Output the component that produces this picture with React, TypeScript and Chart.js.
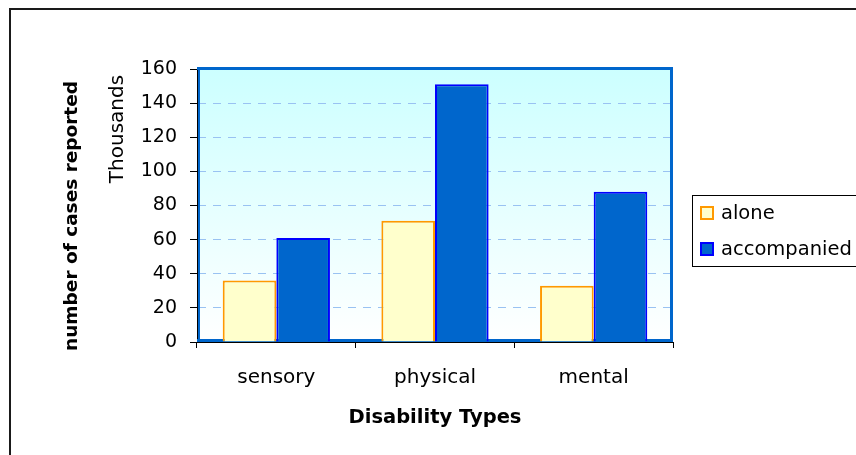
import React, { useEffect, useRef } from "react";
import { Chart, registerables } from "chart.js";

Chart.register(...registerables);

const categories = ["sensory", "physical", "mental"];
const aloneValues = [36, 71, 33];
const accompaniedValues = [61, 151, 88];
const seriesNames = ["alone", "accompanied"];
const yTitle = "number of cases reported";
const yUnit = "Thousands";
const xTitle = "Disability Types";

const FONT = "'DejaVu Sans', sans-serif";

const decorPlugin = {
  id: "decor",
  beforeDraw(chart: any) {
    const { ctx, chartArea } = chart;
    const { left, top, right, bottom } = chartArea;
    ctx.save();
    ctx.fillStyle = "#ffffff";
    ctx.fillRect(0, 0, chart.width, chart.height);
    ctx.fillStyle = "#1a1a1a";
    ctx.fillRect(9, 8, chart.width - 9, 2);
    ctx.fillRect(9, 8, 2, chart.height - 8);
    const g = ctx.createLinearGradient(0, top, 0, bottom);
    g.addColorStop(0, "#ccffff");
    g.addColorStop(1, "#ffffff");
    ctx.fillStyle = g;
    ctx.fillRect(left, top, right - left, bottom - top);
    ctx.restore();
  },
  beforeDatasetsDraw(chart: any) {
    const { ctx, chartArea } = chart;
    const { left, top, right, bottom } = chartArea;
    ctx.save();
    ctx.fillStyle = "#0066cc";
    ctx.fillRect(left, top - 2, right - left, 3);
    ctx.fillRect(right - 3, top - 2, 3, bottom - top + 2);
    ctx.fillRect(left + 1, top - 2, 2, bottom - top + 2);
    ctx.fillRect(left, bottom - 3, right - left, 3);
    ctx.restore();
  },
  afterDraw(chart: any) {
    const { ctx } = chart;
    ctx.save();
    ctx.fillStyle = "#000000";
    ctx.textAlign = "center";
    ctx.textBaseline = "middle";
    ctx.save();
    ctx.translate(72, 216);
    ctx.rotate(-Math.PI / 2);
    ctx.font = `bold 18.5px ${FONT}`;
    ctx.fillText(yTitle, 0, 0);
    ctx.restore();
    ctx.save();
    ctx.translate(118, 129);
    ctx.rotate(-Math.PI / 2);
    ctx.font = `20px ${FONT}`;
    ctx.fillText(yUnit, 0, 0);
    ctx.restore();
    ctx.font = `bold 19.5px ${FONT}`;
    ctx.textBaseline = "alphabetic";
    ctx.fillText(xTitle, 435, 423);
    ctx.strokeStyle = "#000000";
    ctx.lineWidth = 1;
    ctx.strokeRect(692.5, 195.5, 220, 71);
    const ds = chart.data.datasets;
    const rows = [213, 249];
    ctx.textAlign = "left";
    ctx.textBaseline = "middle";
    ctx.font = `19.5px ${FONT}`;
    ds.forEach((d: any, i: number) => {
      const y = rows[i];
      ctx.fillStyle = d.backgroundColor;
      ctx.fillRect(701, y - 6, 12, 12);
      ctx.strokeStyle = d.borderColor;
      ctx.lineWidth = 2;
      ctx.strokeRect(701, y - 6, 12, 12);
      ctx.fillStyle = "#000000";
      ctx.fillText(d.label, 721, y + 1);
    });
    ctx.restore();
  },
};

export default function App() {
  const ref = useRef<HTMLCanvasElement | null>(null);
  useEffect(() => {
    document.body.style.margin = "0";
    const canvas = ref.current!;
    const chart = new Chart(canvas, {
      type: "bar",
      data: {
        labels: categories,
        datasets: [
          {
            label: seriesNames[0],
            data: aloneValues,
            backgroundColor: "#ffffcc",
            borderColor: "#ff9900",
            borderWidth: 2,
            categoryPercentage: 0.676,
            barPercentage: 1,
          },
          {
            label: seriesNames[1],
            data: accompaniedValues,
            backgroundColor: "#0066cc",
            borderColor: "#0000ff",
            borderWidth: 2,
            categoryPercentage: 0.676,
            barPercentage: 1,
          },
        ],
      },
      options: {
        animation: false,
        responsive: false,
        devicePixelRatio: 1,
        layout: { padding: { left: 137, top: 69, right: 183, bottom: 0 } },
        plugins: {
          legend: { display: false },
          tooltip: { enabled: false },
        },
        scales: {
          x: {
            afterFit: (s: any) => {
              s.height = 113;
            },
            grid: {
              offset: true,
              drawOnChartArea: false,
              drawTicks: true,
              tickLength: 6,
              tickColor: "#000000",
            },
            border: { display: true, color: "#000000", width: 1 },
            ticks: {
              color: "#000000",
              font: { family: FONT, size: 20 },
              padding: 18,
              maxRotation: 0,
            },
          },
          y: {
            min: 0,
            max: 160,
            afterFit: (s: any) => {
              s.width = 60;
            },
            grid: {
              color: (c: any) =>
                c.tick && c.tick.value === 0 ? "rgba(0,0,0,0)" : "#99c2f2",
              tickBorderDash: [],
              tickColor: "#000000",
              tickLength: 7,
              lineWidth: 1,
            },
            border: { display: true, color: "#000000", width: 1, dash: [8, 7] },
            ticks: {
              stepSize: 20,
              color: "#000000",
              font: { family: FONT, size: 19 },
              padding: 13,
            },
          },
        },
      },
      plugins: [decorPlugin],
    });
    return () => chart.destroy();
  }, []);
  return (
    <canvas
      ref={ref}
      width={856}
      height={455}
      style={{ display: "block", width: 856, height: 455 }}
    />
  );
}
